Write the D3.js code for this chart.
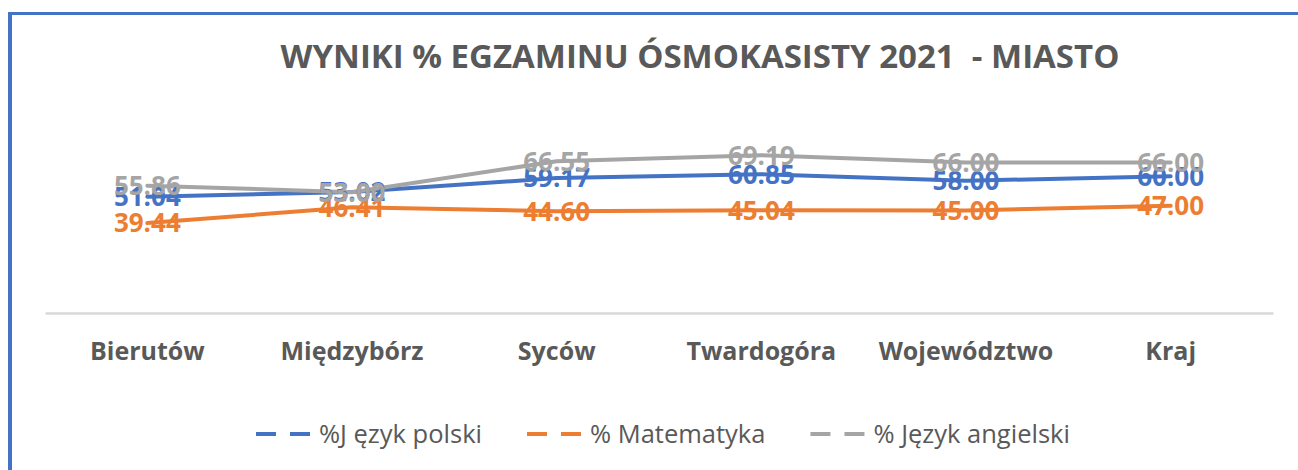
<!DOCTYPE html>
<html>
<head>
<meta charset="utf-8">
<script src="https://cdn.jsdelivr.net/npm/d3@7"></script>
<style>
  body { margin: 0; background: #fff; }
  svg { display: block; font-family: "Open Sans", "Noto Sans", sans-serif; }
</style>
</head>
<body>
<div id="chart"></div>
<script>
// data
const categories = ["Bierutów", "Międzybórz", "Syców", "Twardogóra", "Województwo", "Kraj"];
const polski = [51.04, 53.02, 59.17, 60.85, 58.00, 60.00];
const matematyka = [39.44, 46.41, 44.60, 45.04, 45.00, 47.00];
const angielski = [55.86, 53.00, 66.55, 69.19, 66.00, 66.00];
const seriesNames = ["%J ęzyk polski", "% Matematyka", "% Język angielski"];
const colors = ["#4472C4", "#ED7D31", "#A5A5A5"];

const w = 1298, h = 470;
const series = [polski, matematyka, angielski].map((vals, i) => ({
    name: seriesNames[i],
    color: colors[i],
    values: vals.map((v, j) => ({ cat: categories[j], v: v }))
}));

const svg = d3.select("#chart").append("svg")
    .attr("width", w)
    .attr("height", h);

// frame (only top and left edges show)
svg.append("line").attr("x1", 10).attr("x2", w).attr("y1", 13.5).attr("y2", 13.5)
    .style("stroke", "#4472C4").style("stroke-width", 3);
svg.append("line").attr("x1", 10).attr("x2", 10).attr("y1", 12).attr("y2", h)
    .style("stroke", "#4472C4").style("stroke-width", 4);

svg.append("text")
    .attr("x", 700)
    .attr("y", 68)
    .attr("text-anchor", "middle")
    .attr("xml:space", "preserve")
    .style("font-size", "33px")
    .style("font-weight", "bold")
    .style("fill", "#595959")
    .style("white-space", "pre")
    .text("WYNIKI % EGZAMINU ÓSMOKASISTY 2021  - MIASTO");

const x = d3.scaleBand().domain(categories).range([45, 1273]);
const y = d3.scaleLinear().domain([0, 80]).range([313, 130.6]);

// category axis
const xAxis = svg.append("g")
    .attr("transform", "translate(0,313)")
    .call(d3.axisBottom(x).tickSize(0).tickPadding(29));
xAxis.select(".domain").style("stroke", "#D9D9D9").style("stroke-width", 2.5);
xAxis.selectAll("text")
    .style("font-family", "'Open Sans', sans-serif")
    .style("font-size", "25px")
    .style("font-weight", "bold")
    .style("fill", "#595959");

const cx = d => x(d.cat) + x.bandwidth() / 2;
const line = d3.line().x(cx).y(d => y(d.v));

svg.selectAll(".series")
    .data(series)
    .enter().append("path")
    .attr("class", "series")
    .attr("d", d => line(d.values))
    .style("fill", "none")
    .style("stroke", d => d.color)
    .style("stroke-width", 4)
    .style("stroke-linejoin", "round")
    .style("stroke-linecap", "round");

const labels = svg.selectAll(".labels")
    .data(series)
    .enter().append("g")
    .attr("class", "labels");

labels.selectAll("text")
    .data(d => d.values.map(p => ({ p: p, color: d.color })))
    .enter().append("text")
    .attr("x", d => cx(d.p))
    .attr("y", d => y(d.p.v))
    .attr("dy", "0.36em")
    .attr("text-anchor", "middle")
    .style("font-size", "26px")
    .style("font-weight", "bold")
    .style("fill", d => d.color)
    .text(d => d.p.v.toFixed(2));

// legend
const legend = svg.append("g").attr("transform", "translate(0,434)");
let lx = 256;
series.forEach(s => {
    const g = legend.append("g");
    g.append("line").attr("x1", lx).attr("x2", lx + 55)
        .style("stroke", s.color).style("stroke-width", 4)
        .style("stroke-dasharray", "20,14");
    const t = g.append("text")
        .attr("x", lx + 63)
        .attr("dy", "0.35em")
        .style("font-size", "25.5px")
        .style("fill", "#595959")
        .text(s.name);
    lx += 63 + t.node().getComputedTextLength() + 45;
});
</script>
</body>
</html>
